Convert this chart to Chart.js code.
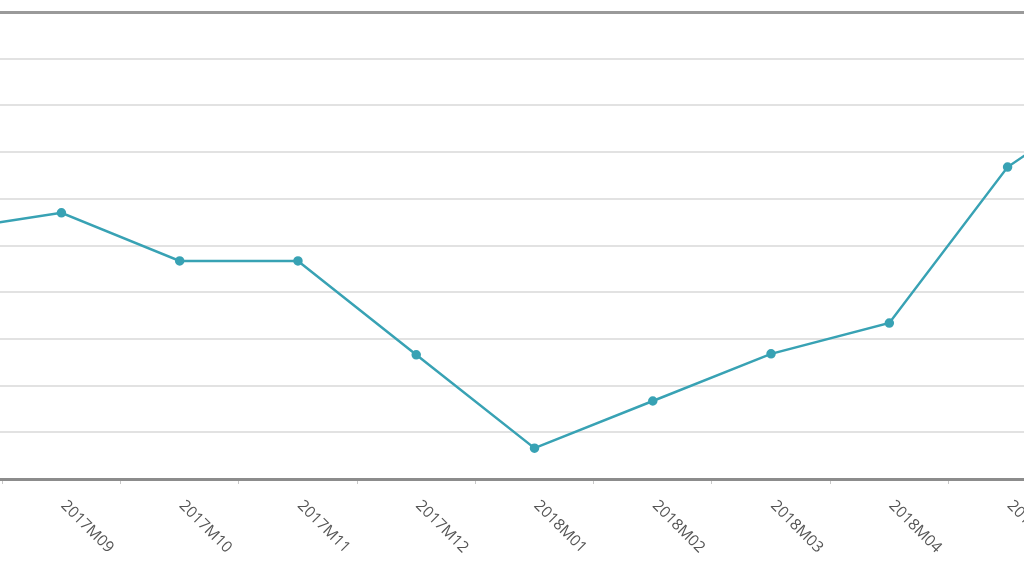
<!DOCTYPE html>
<html>
<head>
<meta charset="utf-8">
<script src="https://cdn.jsdelivr.net/npm/chart.js@4"></script>
<style>
	html, body { margin: 0; padding: 0; background: #fff; overflow: hidden; }
	body { width: 1024px; height: 576px; position: relative; }
	#wrap { position: absolute; left: -122px; top: 0; width: 1313px; height: 576px; }
</style>
</head>
<body>
<div id="wrap"><canvas id="chart"></canvas></div>
<script>
const months = ['2017M08', '2017M09', '2017M10', '2017M11', '2017M12', '2018M01', '2018M02', '2018M03', '2018M04', '2018M05', '2018M06'];
const values = [53.1, 57.0, 46.7, 46.7, 26.6, 6.6, 16.7, 26.8, 33.4, 66.8, 84.0];

const lineColor = '#38a2b4';

// labels run down to the right from each category, which the built-in rotation can't do
const slantedLabels = {
	id: 'slantedLabels',
	afterDraw(chart) {
		const scale = chart.scales.x;
		const ctx = chart.ctx;
		ctx.save();
		ctx.font = '15.5px "Open Sans"';
		ctx.fillStyle = '#555';
		ctx.textAlign = 'left';
		ctx.textBaseline = 'middle';
		scale.ticks.forEach((tick, i) => {
			const x = scale.getPixelForTick(i);
			ctx.save();
			ctx.translate(x + 2, scale.top + 24);
			ctx.rotate(Math.PI / 4);
			ctx.fillText(scale.getLabelForValue(tick.value), 0, 0);
			ctx.restore();
		});
		ctx.restore();
	}
};

new Chart(document.getElementById('chart'), {
	type: 'line',
	data: {
		labels: months,
		datasets: [{
			data: values,
			borderColor: lineColor,
			backgroundColor: lineColor,
			borderWidth: 2.5,
			pointRadius: 3.5,
			pointHoverRadius: 3.5,
			tension: 0,
		}]
	},
	options: {
		responsive: true,
		maintainAspectRatio: false,
		animation: false,
		layout: { padding: { top: 12, left: 0, right: 0, bottom: 0 } },
		plugins: {
			legend: { display: false },
			tooltip: { enabled: false },
		},
		scales: {
			x: {
				offset: true,
				grid: {
					offset: true,
					drawOnChartArea: false,
					drawTicks: true,
					tickLength: 5,
					color: '#c8c8c8',
				},
				border: { color: '#8c8c8c', width: 3 },
				ticks: { display: false },
				afterFit: (s) => { s.height = 97; },
			},
			y: {
				min: 0,
				max: 100,
				ticks: { display: false, stepSize: 10 },
				grid: {
					drawTicks: false,
					lineWidth: (c) => c.index === 10 ? 3 : 2,
					color: (c) => c.index === 10 ? '#9a9a9a' : '#e2e2e2',
				},
				border: { display: false },
				afterFit: (s) => { s.width = 0; },
			}
		}
	},
	plugins: [slantedLabels]
});
</script>
</body>
</html>
